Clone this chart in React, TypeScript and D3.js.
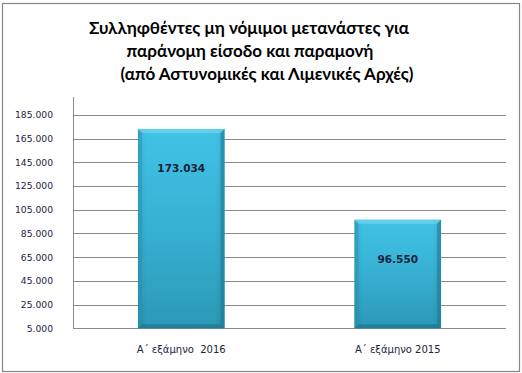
import React from 'react';
import * as d3 from 'd3';

const categories = ['Α΄ εξάμηνο  2016', 'Α΄ εξάμηνο 2015'];
const values = [173034, 96550];
const valueLabels = ['173.034', '96.550'];
const yTicks = [5000, 25000, 45000, 65000, 85000, 105000, 125000, 145000, 165000, 185000];
const titleLines = [
  'Συλληφθέντες μη νόμιμοι μετανάστες για',
  'παράνομη είσοδο και παραμονή',
  '(από Αστυνομικές και Λιμενικές Αρχές)',
];

const width = 522;
const height = 373;
const margin = { top: 97, right: 16, bottom: 45, left: 73 };

// 5000 -> "5.000"
const fmt = (v: number) => d3.format(',')(v).replace(/,/g, '.');

export default function App() {
  const innerW = width - margin.left - margin.right;
  const plotBottom = 328.3;

  const x = d3.scaleBand<string>()
    .domain(categories)
    .range([margin.left, margin.left + innerW])
    .paddingInner(0.6)
    .paddingOuter(0.3);

  const y = d3.scaleLinear()
    .domain([5000, 200000])
    .range([plotBottom, margin.top]);

  const bw = x.bandwidth();
  const bevel = 4;

  return (
    <div style={{ position: 'absolute', left: 0, top: 0 }}>
      <svg width={width} height={height} style={{ display: 'block', background: '#fff' }}>
        <defs>
          <linearGradient id="barV" x1="0" y1="0" x2="0" y2="1">
            <stop offset="0%" stopColor="#41c3e6" />
            <stop offset="55%" stopColor="#35aed0" />
            <stop offset="100%" stopColor="#2b98b6" />
          </linearGradient>
          <linearGradient id="barH" x1="0" y1="0" x2="1" y2="0">
            <stop offset="0%" stopColor="#000" stopOpacity={0.08} />
            <stop offset="10%" stopColor="#000" stopOpacity={0} />
            <stop offset="90%" stopColor="#000" stopOpacity={0} />
            <stop offset="100%" stopColor="#000" stopOpacity={0.1} />
          </linearGradient>
        </defs>

        <rect x={2.5} y={3.5} width={517} height={368} fill="#fff" stroke="#868686" strokeWidth={1.2} />

        {titleLines.map((t, i) => (
          <text
            key={i}
            x={[249, 250, 267][i]}
            y={34 + i * 23}
            textAnchor="middle"
            fontFamily="Lato, 'Open Sans', sans-serif"
            fontWeight="bold"
            fontSize={17}
            fill="#000"
          >
            {t}
          </text>
        ))}

        {/* grid lines */}
        {yTicks.map(t => (
          <line
            key={t}
            x1={margin.left}
            x2={margin.left + innerW}
            y1={Math.round(y(t)) + 0.5}
            y2={Math.round(y(t)) + 0.5}
            stroke="#8a8a8a"
            strokeWidth={1}
          />
        ))}
        {/* y axis line */}
        <line x1={margin.left + 0.5} x2={margin.left + 0.5} y1={margin.top} y2={Math.round(plotBottom) + 0.5} stroke="#8a8a8a" />

        {yTicks.map(t => (
          <text
            key={'l' + t}
            x={53}
            y={y(t) + 3.5}
            textAnchor="end"
            fontFamily="'DejaVu Sans', Verdana, sans-serif"
            fontSize={9.2}
            fill="#1b2440"
          >
            {fmt(t)}
          </text>
        ))}

        {categories.map((c, i) => {
          const bx = x(c) || 0;
          const by = y(values[i]);
          const bh = plotBottom - by;
          const cx = bx + bw / 2;
          return (
            <g key={c}>
              <rect x={bx} y={by} width={bw} height={bh} fill="url(#barV)" />
              <rect x={bx} y={by} width={bw} height={bh} fill="url(#barH)" />
              <polygon
                points={`${bx},${by} ${bx + bw},${by} ${bx + bw - bevel},${by + bevel} ${bx + bevel},${by + bevel}`}
                fill="#6fd6f0"
                opacity={0.7}
              />
              <polygon
                points={`${bx},${by + bh} ${bx + bw},${by + bh} ${bx + bw - bevel},${by + bh - bevel} ${bx + bevel},${by + bh - bevel}`}
                fill="#1d7088"
                opacity={0.6}
              />
              <polygon
                points={`${bx},${by} ${bx + bevel},${by + bevel} ${bx + bevel},${by + bh - bevel} ${bx},${by + bh}`}
                fill="#2a8fab"
                opacity={0.5}
              />
              <polygon
                points={`${bx + bw},${by} ${bx + bw - bevel},${by + bevel} ${bx + bw - bevel},${by + bh - bevel} ${bx + bw},${by + bh}`}
                fill="#1f7c96"
                opacity={0.6}
              />
              <text
                x={cx}
                y={by + 43}
                textAnchor="middle"
                fontFamily="'DejaVu Sans', Verdana, sans-serif"
                fontWeight="bold"
                fontSize={10.5}
                fill="#16223a"
              >
                {valueLabels[i]}
              </text>
              <text
                x={cx}
                y={353}
                textAnchor="middle"
                fontFamily="'DejaVu Sans', Verdana, sans-serif"
                fontSize={10}
                fill="#1b2440"
                style={{ whiteSpace: 'pre' }}
              >
                {c}
              </text>
            </g>
          );
        })}
      </svg>
    </div>
  );
}
